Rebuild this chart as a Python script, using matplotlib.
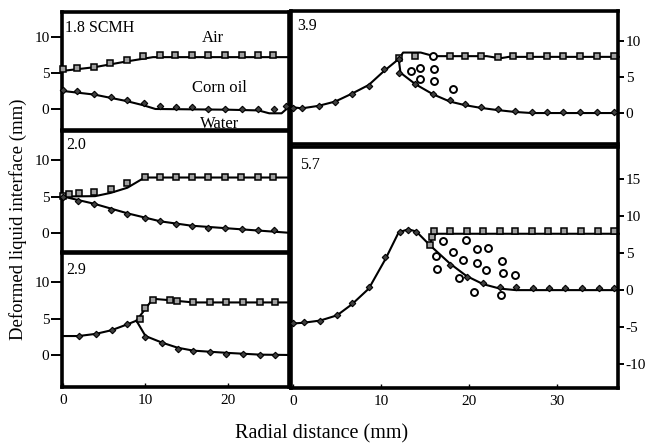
import matplotlib
matplotlib.use("Agg")
import matplotlib.pyplot as plt

plt.rcParams['font.family'] = ['Liberation Serif', 'DejaVu Serif']
plt.rcParams['axes.unicode_minus'] = False

# ---- panel 1.8 SCMH ----
p18_sq_x = [0, 1.7, 3.8, 5.7, 7.7, 9.7, 11.8, 13.6, 15.6, 17.6, 19.6, 21.7, 23.7, 25.5]
p18_sq_y = [5.5, 5.7, 5.9, 6.4, 6.8, 7.4, 7.5, 7.5, 7.5, 7.5, 7.5, 7.5, 7.5, 7.5]
p18_di_x = [0, 1.7, 3.8, 5.8, 7.7, 9.8, 11.8, 13.7, 15.6, 17.6, 19.6, 21.7, 23.7, 25.6, 27.0]
p18_di_y = [2.7, 2.5, 2.1, 1.7, 1.25, 0.8, 0.4, 0.3, 0.3, 0.05, 0, 0, 0, 0, 0.4]
p18_up_x = [0, 3.8, 7.7, 10.9, 27.8]
p18_up_y = [5.3, 5.8, 6.6, 7.2, 7.2]
p18_lo_x = [0, 3.8, 7.7, 9.8, 11.2, 20, 23.7, 25, 26.5, 27.3, 27.8]
p18_lo_y = [2.5, 2.0, 1.1, 0.5, 0.0, -0.1, -0.2, -0.6, -0.6, 0.2, 0.3]

# ---- panel 2.0 ----
p20_sq_x = [0, 0.7, 1.9, 3.8, 5.8, 7.8, 9.9, 11.8, 13.7, 15.6, 17.6, 19.6, 21.6, 23.6, 25.5]
p20_sq_y = [5.1, 5.35, 5.5, 5.6, 6.0, 6.8, 7.7, 7.7, 7.7, 7.7, 7.7, 7.7, 7.7, 7.7, 7.7]
p20_di_x = [0, 1.8, 3.8, 5.8, 7.8, 9.9, 11.8, 13.7, 15.6, 17.6, 19.6, 21.7, 23.7, 25.6]
p20_di_y = [5.0, 4.4, 4.0, 3.2, 2.6, 2.0, 1.6, 1.3, 1.0, 0.75, 0.7, 0.55, 0.45, 0.4]
p20_up_x = [0, 3.9, 5.8, 7.8, 9.9, 27.8]
p20_up_y = [5.0, 5.05, 5.5, 6.2, 7.6, 7.6]
p20_lo_x = [0, 3.8, 7.8, 11.8, 15.6, 21.7, 27.8]
p20_lo_y = [5.0, 4.0, 2.7, 1.6, 1.0, 0.5, 0.0]

# ---- panel 2.9 ----
p29_sq_x = [9.3, 9.9, 10.9, 13.0, 13.8, 15.8, 17.8, 19.8, 21.8, 23.9, 25.7]
p29_sq_y = [4.9, 6.4, 7.6, 7.5, 7.4, 7.2, 7.2, 7.2, 7.2, 7.2, 7.2]
p29_di_x = [1.9, 4.0, 5.9, 7.8, 9.9, 12.0, 13.9, 15.8, 17.8, 19.8, 21.8, 23.9, 25.7]
p29_di_y = [2.6, 2.9, 3.4, 4.2, 2.4, 1.6, 0.8, 0.6, 0.45, 0.2, 0.1, 0.0, 0.0]
p29_in_x = [0, 1.9, 4.0, 5.9, 7.8, 8.9]
p29_in_y = [2.6, 2.6, 2.9, 3.4, 4.2, 4.7]
p29_up_x = [8.9, 9.9, 10.9, 13.0, 15.8, 27.8]
p29_up_y = [4.7, 6.2, 7.7, 7.5, 7.2, 7.2]
p29_lo_x = [8.9, 10.0, 12.0, 13.9, 15.8, 19.8, 23.9, 27.8]
p29_lo_y = [4.7, 2.6, 1.7, 1.0, 0.6, 0.3, 0.05, 0.0]

# ---- panel 3.9 ----
p39_sq_x = [12.0, 13.9, 17.8, 19.5, 21.4, 23.3, 25.0, 26.9, 28.8, 30.7, 32.6, 34.5, 36.4]
p39_sq_y = [7.6, 7.9, 7.9, 7.9, 7.9, 7.8, 7.9, 7.9, 7.9, 7.9, 7.9, 7.9, 7.9]
p39_di_x = [0, 1.0, 2.9, 4.8, 6.7, 8.6, 10.3, 12.0, 12.0, 13.9, 15.9, 17.8, 19.5,
            21.4, 23.3, 25.2, 27.1, 28.8, 30.7, 32.6, 34.5, 36.4]
p39_di_y = [0.65, 0.65, 0.97, 1.6, 2.6, 3.75, 6.1, 7.5, 5.5, 4.0, 2.7, 1.8, 1.25,
            0.9, 0.55, 0.3, 0.2, 0.2, 0.2, 0.2, 0.2, 0.2]
p39_ci_x = [13.4, 14.4, 16.0, 14.4, 16.0, 18.2, 15.9]
p39_ci_y = [5.8, 6.3, 6.1, 4.7, 4.4, 3.3, 7.9]
p39_in_x = [0, 1.0, 2.9, 4.8, 6.7, 8.6, 10.3, 12.0]
p39_in_y = [0.8, 0.65, 1.0, 1.6, 2.7, 3.9, 5.8, 7.5]
p39_up_x = [12.0, 12.5, 14.5, 16.0, 22.0, 23.5, 24.5, 37.0]
p39_up_y = [7.5, 8.4, 8.4, 7.9, 7.9, 7.6, 7.8, 7.8]
p39_lo_x = [12.0, 12.2, 13.9, 15.9, 17.8, 19.5, 21.4, 23.3, 25.2, 27.1, 37.0]
p39_lo_y = [7.5, 5.6, 4.0, 2.6, 1.6, 1.1, 0.7, 0.4, 0.15, 0.0, 0.0]

# ---- panel 5.7 ----
p57_sq_x = [15.5, 15.8, 16.0, 17.8, 19.7, 21.6, 23.5, 25.2, 27.1, 29.0, 30.8, 32.7, 34.6, 36.5]
p57_sq_y = [6.1, 7.1, 8.0, 8.0, 8.0, 8.0, 8.0, 8.0, 8.0, 8.0, 8.0, 8.0, 8.0, 8.0]
p57_di_x = [0, 1.2, 3.1, 5.0, 6.7, 8.6, 10.5, 12.2, 13.1, 14.0, 17.8, 19.7, 21.6,
            23.5, 25.3, 27.2, 29.1, 30.9, 32.8, 34.7, 36.5]
p57_di_y = [-4.4, -4.3, -4.1, -3.4, -1.7, 0.45, 4.5, 7.9, 8.1, 7.9, 3.4, 1.8, 0.9,
            0.45, 0.4, 0.35, 0.35, 0.35, 0.35, 0.35, 0.35]
p57_ci_x = [17.0, 19.6, 18.2, 20.9, 22.1, 16.25, 19.35, 20.9, 23.7, 16.3, 21.9, 23.8, 25.2, 18.9, 20.6, 23.6]
p57_ci_y = [6.6, 6.8, 5.2, 5.5, 5.7, 4.6, 4.0, 3.7, 3.9, 2.9, 2.7, 2.3, 2.1, 1.7, -0.3, -0.7]
p57_up_x = [15.5, 15.9, 16.3, 37.0]
p57_up_y = [6.1, 7.3, 7.6, 7.6]
p57_lo_x = [0, 1.2, 3.1, 5.0, 6.7, 8.6, 10.5, 12.0, 13.1, 14.0, 15.5, 17.8, 19.7, 21.6, 23.5, 25.3, 37.0]
p57_lo_y = [-4.5, -4.4, -4.1, -3.4, -1.9, 0.2, 4.2, 7.8, 8.2, 7.9, 6.1, 3.6, 1.9, 0.8, 0.2, 0.0, 0.0]

W, H = 649, 445
fig = plt.figure(figsize=(W / 100, H / 100), dpi=100)


def box(x0, y0, x1, y1):
    return [x0 / W, 1 - y1 / H, (x1 - x0) / W, (y1 - y0) / H]


def style(ax, side):
    for s in ax.spines.values():
        s.set_linewidth(2.6)
    ax.tick_params(axis='y', which='both', labelsize=11)
    if side == 'left':
        ax.tick_params(axis='y', direction='out', length=8, width=1.4, pad=1)
    else:
        ax.yaxis.tick_right()
        ax.tick_params(axis='y', direction='out', length=4, width=1.4, pad=1.5)


def curve(ax, x, y):
    ax.plot(x, y, color='black', lw=1.5, clip_on=False, zorder=2)


def squares(ax, x, y):
    ax.plot(x, y, 's', ms=4.3, mfc='#a0a0a0', mec='black', mew=1.1, clip_on=False, zorder=3)


def diamonds(ax, x, y):
    ax.plot(x, y, 'D', ms=3.3, mfc='#404040', mec='black', mew=0.8, clip_on=False, zorder=3)


def circles(ax, x, y):
    ax.plot(x, y, 'o', ms=5, mfc='white', mec='black', mew=1.4, clip_on=False, zorder=3)


# left column
ax1 = fig.add_axes(box(62, 12, 289, 130))
ax2 = fig.add_axes(box(62, 131, 289, 252))
ax3 = fig.add_axes(box(62, 253, 289, 387))
# right column
ax4 = fig.add_axes(box(291, 11, 618, 144))
ax5 = fig.add_axes(box(291, 147, 618, 388))

for ax in (ax1, ax2, ax3):
    style(ax, 'left')
    ax.set_xlim(-0.12, 27.4)
    ax.set_yticks([0, 5, 10])
for ax in (ax4, ax5):
    style(ax, 'right')
    ax.set_xlim(-0.23, 36.9)

ax1.set_ylim(-2.92, 13.47)
ax2.set_ylim(-2.6, 13.97)
ax3.set_ylim(-4.38, 13.97)
ax4.set_ylim(-4.3, 14.17)
ax4.set_yticks([0, 5, 10])
ax5.set_ylim(-13.2, 19.3)
ax5.set_yticks([-10, -5, 0, 5, 10, 15])

for ax in (ax1, ax2, ax4):
    ax.set_xticks([])
ax3.set_xticks([0, 10, 20])
ax5.set_xticks([0, 10, 20, 30])
for ax in (ax3, ax5):
    ax.tick_params(axis='x', direction='in', length=3, width=1, pad=5, labelsize=11)

# panel 1.8
curve(ax1, p18_up_x, p18_up_y)
curve(ax1, p18_lo_x, p18_lo_y)
squares(ax1, p18_sq_x, p18_sq_y)
diamonds(ax1, p18_di_x, p18_di_y)
ax1.text(0.015, 0.93, '1.8 SCMH', transform=ax1.transAxes, fontsize=11.5, va='top')
ax1.text(18.2, 9.9, 'Air', fontsize=12, ha='center', va='center')
ax1.text(19.0, 2.9, 'Corn oil', fontsize=12, ha='center', va='center')
ax1.text(19.0, -2.1, 'Water', fontsize=12, ha='center', va='center', clip_on=False)

# panel 2.0
curve(ax2, p20_up_x, p20_up_y)
curve(ax2, p20_lo_x, p20_lo_y)
squares(ax2, p20_sq_x, p20_sq_y)
diamonds(ax2, p20_di_x, p20_di_y)
ax2.text(0.018, 0.95, '2.0', transform=ax2.transAxes, fontsize=11.5, va='top')

# panel 2.9
curve(ax3, p29_in_x, p29_in_y)
curve(ax3, p29_up_x, p29_up_y)
curve(ax3, p29_lo_x, p29_lo_y)
squares(ax3, p29_sq_x, p29_sq_y)
diamonds(ax3, p29_di_x, p29_di_y)
ax3.text(0.018, 0.93, '2.9', transform=ax3.transAxes, fontsize=11.5, va='top')

# panel 3.9
curve(ax4, p39_in_x, p39_in_y)
curve(ax4, p39_up_x, p39_up_y)
curve(ax4, p39_lo_x, p39_lo_y)
squares(ax4, p39_sq_x, p39_sq_y)
diamonds(ax4, p39_di_x, p39_di_y)
circles(ax4, p39_ci_x, p39_ci_y)
ax4.text(0.018, 0.95, '3.9', transform=ax4.transAxes, fontsize=11.5, va='top')

# panel 5.7
curve(ax5, p57_lo_x, p57_lo_y)
curve(ax5, p57_up_x, p57_up_y)
squares(ax5, p57_sq_x, p57_sq_y)
diamonds(ax5, p57_di_x, p57_di_y)
circles(ax5, p57_ci_x, p57_ci_y)
ax5.text(0.028, 0.958, '5.7', transform=ax5.transAxes, fontsize=11.5, va='top')

fig.text(18 / W, 1 - 219 / H, 'Deformed liquid interface (mm)', rotation=90,
         ha='center', va='center', fontsize=13.5)
fig.text(322 / W, 1 - 434 / H, 'Radial distance (mm)', ha='center', va='center', fontsize=14.5)

fig.savefig('out.png', dpi=100)
